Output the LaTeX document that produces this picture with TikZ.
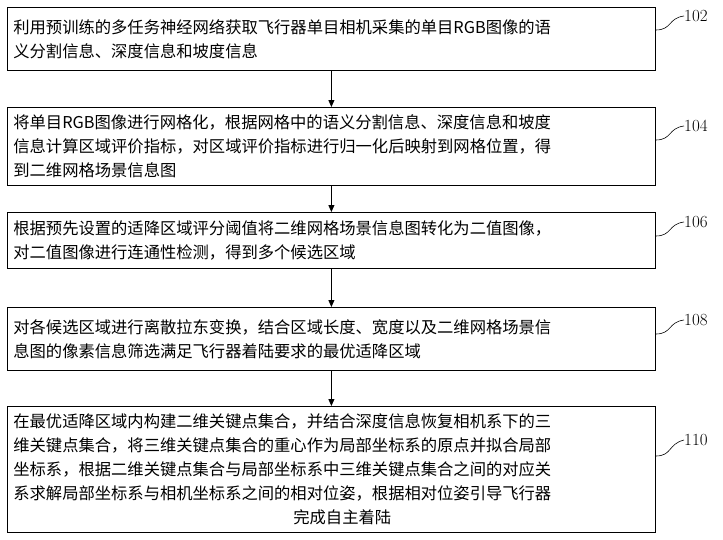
\documentclass[tikz,border=0pt]{standalone}
\usepackage{fontspec}
\newfontfamily\cjk{Noto Sans CJK SC}
\usetikzlibrary{positioning,arrows.meta}
\tikzset{
  stepbox/.style={draw,line width=0.8pt,minimum width=648pt,text width=636pt,align=left,
    inner sep=4pt,font=\cjk\fontsize{16.3}{24}\selectfont,anchor=north west},
  flow/.style={-{Triangle[length=7pt,width=6pt]},line width=0.8pt},
  tag/.style={font=\fontsize{17}{20}\selectfont,anchor=west,inner sep=0pt}
}
\begin{document}
\begin{tikzpicture}[x=1pt,y=-1pt]
	\useasboundingbox (0,0) rectangle (723,539);
	\node[stepbox,minimum height=63pt] (s1) at (7,7) {利用预训练的多任务神经网络获取飞行器单目相机采集的单目RGB图像的语\\义分割信息、深度信息和坡度信息};
	\node[stepbox,minimum height=78pt] (s2) at (7,107) {将单目RGB图像进行网格化，根据网格中的语义分割信息、深度信息和坡度\\信息计算区域评价指标，对区域评价指标进行归一化后映射到网格位置，得\\到二维网格场景信息图};
	\node[stepbox,minimum height=56pt] (s3) at (7,212) {根据预先设置的适降区域评分阈值将二维网格场景信息图转化为二值图像，\\对二值图像进行连通性检测，得到多个候选区域};
	\node[stepbox,minimum height=63pt] (s4) at (7,307) {对各候选区域进行离散拉东变换，结合区域长度、宽度以及二维网格场景信\\息图的像素信息筛选满足飞行器着陆要求的最优适降区域};
	\node[stepbox,minimum height=126pt] (s5) at (7,406) {在最优适降区域内构建二维关键点集合，并结合深度信息恢复相机系下的三\\维关键点集合，将三维关键点集合的重心作为局部坐标系的原点并拟合局部\\坐标系，根据二维关键点集合与局部坐标系中三维关键点集合之间的对应关\\系求解局部坐标系与相机坐标系之间的相对位姿，根据相对位姿引导飞行器\\\hspace*{280pt}完成自主着陆};
	% arrows
	\foreach \a/\b in {s1/s2,s2/s3,s3/s4,s4/s5}
		\draw[flow] (\a.south) -- (\b.north);
	% reference numbers
	\node[tag] (n1) at (684,16) {102};
	\node[tag] (n2) at (684,126) {104};
	\node[tag] (n3) at (684,222) {106};
	\node[tag] (n4) at (684,320) {108};
	\node[tag] (n5) at (684,440) {110};
	\foreach \n/\s/\y in {n1/s1/30,n2/s2/140,n3/s3/236,n4/s4/334,n5/s5/456}
		\draw[line width=0.6pt] (\s.east |- 0,\y) .. controls (672,\y) and (668,\y-12) .. (\n.west);
\end{tikzpicture}
\end{document}
